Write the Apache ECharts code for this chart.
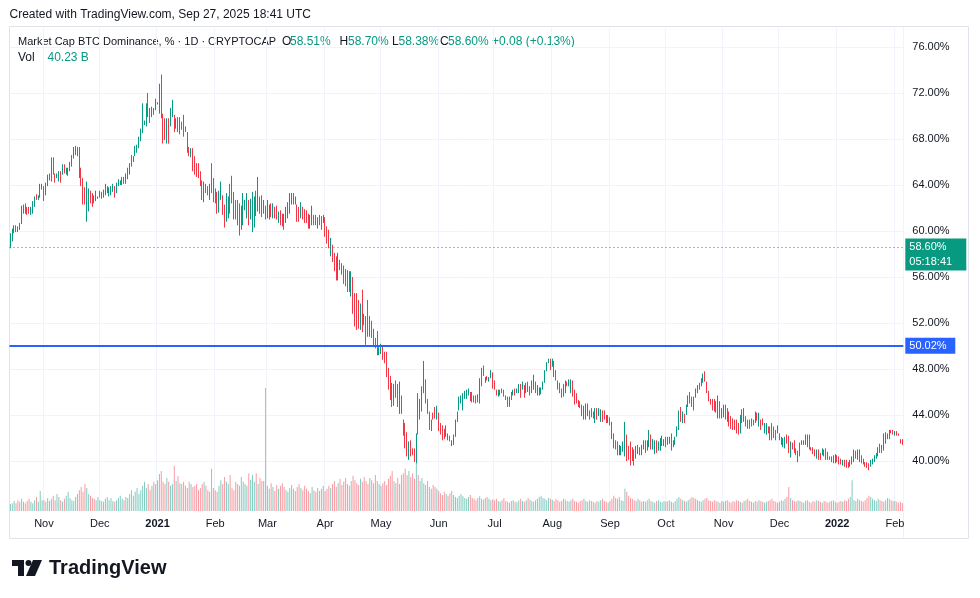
<!DOCTYPE html>
<html>
<head>
<meta charset="utf-8">
<title>Market Cap BTC Dominance, % - 1D - CRYPTOCAP</title>
<script src="https://cdn.jsdelivr.net/npm/echarts@6.0.0/dist/echarts.min.js"></script>
<style>
  html, body { margin: 0; padding: 0; background: #ffffff; }
  #main { width: 980px; height: 598px; }
</style>
</head>
<body>
<div id="main"></div>
<script>
// daily bars, first bar 14 Oct 2020
var startDay = Date.UTC(2020, 9, 14);
var monthNames = ['Jan', 'Feb', 'Mar', 'Apr', 'May', 'Jun', 'Jul', 'Aug', 'Sep', 'Oct', 'Nov', 'Dec'];

var opens = [
  58.5,59.1,59.8,60.5,60.4,60.1,60.6,61.5,62.4,62.1, 62.1,61.4,61.5,62.1,63.2,62.7,62.9,63.6,63.9,63.1,
  63.9,64.4,64.3,66.4,65.0,64.6,64.3,65.2,64.9,65.8, 64.9,64.8,65.2,65.6,66.3,66.6,66.5,67.3,65.5,64.6,
  63.8,60.8,61.7,63.5,63.3,63.1,62.6,62.8,62.9,63.4, 62.9,63.1,63.3,63.0,63.1,63.4,63.9,63.3,63.9,64.0,
  64.0,64.7,64.1,64.5,64.9,66.6,66.0,66.5,66.8,67.2, 67.8,68.5,69.2,69.1,72.0,70.7,69.9,70.7,70.5,71.2,
  70.2,73.6,70.2,69.8,67.6,69.8,69.1,69.9,70.1,68.9, 69.9,68.4,69.5,70.1,69.1,68.6,67.3,66.4,67.2,66.5,
  65.9,65.9,65.2,64.4,62.5,64.1,63.9,62.7,65.9,64.6, 63.7,63.4,61.6,62.7,63.1,62.3,60.8,61.1,64.1,64.8,
  63.4,62.7,62.7,62.4,60.1,60.5,61.8,61.1,62.7,61.0, 59.9,60.3,63.5,61.7,63.0,63.1,61.5,62.2,61.1,61.0,
  62.4,61.1,62.1,62.2,60.7,61.8,61.5,61.5,60.7,61.1, 61.5,62.3,63.3,63.0,62.3,62.1,61.1,62.1,61.9,61.8,
  61.5,60.2,60.5,61.4,61.4,60.2,61.4,61.3,60.7,61.2, 60.4,60.1,57.8,58.8,58.1,57.8,55.7,57.5,57.2,57.0,
  56.7,56.6,56.5,54.3,56.0,54.6,54.6,54.0,51.4,54.9, 52.8,52.6,54.0,50.8,52.2,51.5,50.7,51.3,49.2,49.3,
  50.0,49.5,49.5,48.1,47.4,46.8,44.8,47.0,46.7,44.1, 45.7,43.6,43.3,42.5,40.1,41.8,41.1,41.1,39.8,45.9,
  43.6,44.3,45.9,47.1,45.4,44.3,42.6,44.2,44.7,43.6, 44.2,43.3,43.1,42.8,42.1,42.4,42.2,41.3,41.4,42.1,
  43.4,44.4,45.0,44.4,45.4,45.4,45.7,46.0,46.0,45.7, 45.7,45.1,45.0,48.1,48.3,46.8,47.4,46.9,47.2,47.7,
  47.0,46.2,45.6,45.7,46.3,46.2,45.7,45.6,44.7,45.3, 45.7,46.3,45.9,45.9,46.7,46.2,46.6,45.9,46.9,45.7,
  45.9,46.2,46.9,45.7,45.7,45.8,46.2,46.8,47.8,48.5, 48.9,48.2,48.7,47.9,47.0,46.8,46.3,45.6,45.9,46.9,
  46.5,45.9,47.0,46.2,45.9,45.3,45.2,44.9,43.6,43.6, 43.9,44.4,44.6,44.3,43.3,44.6,43.9,43.4,44.4,44.4,
  44.0,43.3,43.8,43.4,42.4,41.8,41.7,40.5,40.5,40.8, 40.4,42.3,41.3,41.7,41.2,41.0,40.2,40.6,41.2,40.5,
  41.0,41.8,40.9,41.2,42.3,41.0,40.6,41.8,40.9,40.9, 41.3,41.3,42.1,41.4,41.5,42.4,41.8,41.4,42.1,42.7,
  44.7,43.3,44.1,44.0,44.7,46.0,45.6,45.6,45.5,45.9, 46.8,46.5,46.8,47.8,46.9,46.1,45.4,45.4,45.4,45.2,
  43.7,45.2,43.7,43.8,44.9,44.6,44.3,43.9,43.7,43.6, 43.6,43.3,42.4,44.5,43.4,43.9,43.6,43.6,43.7,43.6,
  43.3,44.2,43.0,43.6,43.7,42.4,42.3,43.0,43.0,43.3, 43.0,42.7,42.4,42.4,42.1,41.2,41.1,42.3,42.2,40.3,
  41.6,41.8,41.1,39.9,41.6,41.4,41.4,41.4,41.2,42.3, 41.2,41.2,41.0,40.2,41.0,40.7,40.5,41.0,41.1,40.8,
  40.4,39.9,40.5,39.8,40.5,40.4,40.2,39.6,40.1,40.1, 39.9,39.5,39.7,39.9,40.9,40.1,41.0,40.5,40.2,39.9,
  39.9,39.8,39.5,39.7,39.9,40.2,40.4,41.5,41.4,40.9, 41.5,41.9,41.9,42.7,42.7,42.2,42.6,42.4,41.9,41.9
];

var closes = [
  59.8,60.2,60.5,59.9,59.9,60.7,62.2,62.3,61.5,61.4, 61.5,62.1,62.6,63.0,62.7,63.1,64.1,64.1,62.6,64.2,
  64.9,65.0,66.4,64.9,64.2,65.0,65.2,64.2,65.8,65.0, 65.5,65.5,66.0,66.6,67.3,67.4,67.3,64.6,63.9,62.3,
  62.3,64.3,63.7,62.4,62.1,62.4,63.5,63.0,63.5,62.8, 63.6,64.1,63.9,63.8,63.9,64.1,62.9,64.2,64.5,64.4,
  64.7,64.1,65.0,65.5,65.9,65.6,66.5,67.4,67.5,68.2, 68.9,71.1,69.6,71.1,69.9,69.4,70.8,70.1,71.5,71.0,
  72.8,69.8,67.6,67.9,69.8,67.6,70.7,71.4,68.6,69.8, 68.6,69.9,68.8,68.2,68.6,66.8,66.5,67.2,65.2,64.9,
  64.7,64.6,63.9,62.7,64.3,63.3,63.1,64.1,63.3,62.5, 62.4,61.5,63.5,64.3,61.4,60.3,63.3,63.0,61.5,62.4,
  61.0,61.0,60.5,59.6,62.2,63.3,62.7,63.3,60.5,62.8, 63.4,63.0,61.3,64.7,61.5,61.2,62.7,61.0,62.7,62.3,
  61.2,62.4,61.1,61.0,61.7,60.5,60.4,60.1,62.1,62.5, 63.3,63.3,62.3,62.3,60.8,60.8,62.5,61.0,60.7,60.7,
  60.2,61.4,62.2,60.5,60.5,61.2,60.5,60.1,61.4,59.5, 58.9,58.5,59.4,57.3,56.5,55.7,58.1,56.6,56.2,55.4,
  55.2,54.7,54.7,56.5,52.8,51.7,51.4,51.5,53.7,51.2, 51.8,50.1,50.8,52.6,50.7,49.9,49.8,49.2,49.9,50.2,
  48.8,48.5,47.3,46.2,45.3,44.7,46.7,45.5,44.7,46.9, 44.1,42.2,41.1,40.4,41.7,40.4,40.5,39.9,42.4,42.3,
  45.4,46.5,48.7,45.0,44.1,42.7,43.6,43.6,43.7,44.8, 42.6,42.3,41.8,41.9,43.1,41.8,41.7,41.8,42.3,43.6,
  44.3,45.6,45.7,45.9,46.1,46.2,46.3,45.2,45.1,45.1, 45.0,45.8,47.2,46.5,47.4,47.3,47.0,47.3,47.9,46.3,
  46.2,45.7,46.2,46.2,45.9,45.6,45.3,44.7,45.6,46.0, 46.2,45.7,46.3,46.7,45.5,46.9,45.5,46.8,46.0,46.5,
  47.0,47.5,45.9,46.6,46.4,46.4,46.9,47.9,48.6,48.9, 47.9,48.9,47.3,47.0,46.2,45.9,45.5,46.7,47.0,46.5,
  47.1,47.1,45.6,44.9,45.0,44.7,44.6,43.9,44.8,45.0, 45.0,43.6,43.8,43.7,44.6,43.6,44.6,44.5,43.4,43.6,
  43.3,44.0,43.1,41.9,41.1,41.0,40.5,41.4,41.3,41.7, 43.4,40.0,40.1,39.6,40.0,39.6,41.3,41.4,40.5,41.4,
  41.8,40.7,41.8,42.7,41.0,41.9,41.8,40.7,41.7,42.0, 42.2,41.9,41.2,42.1,42.1,40.9,41.2,42.1,43.0,44.4,
  43.4,44.3,43.3,44.9,45.7,45.0,44.7,44.4,46.3,46.6, 46.2,47.2,47.6,46.9,45.9,45.2,44.9,44.4,44.3,44.2,
  45.7,43.7,44.6,44.9,43.6,43.4,43.0,42.8,42.7,42.7, 42.4,42.3,44.0,43.3,44.6,43.0,42.8,42.8,43.0,43.1,
  44.3,43.5,44.2,42.7,43.1,43.3,43.3,42.4,41.8,41.8, 42.0,41.8,43.1,41.8,41.4,42.0,42.1,41.5,40.7,41.7,
  41.0,40.7,40.5,40.9,40.4,41.8,41.8,42.3,42.3,41.0, 40.9,40.6,40.4,41.0,40.1,40.1,41.1,40.4,40.1,40.1,
  40.1,40.4,39.8,40.6,39.9,39.7,39.7,40.1,39.5,39.4, 39.4,40.1,40.4,41.0,40.2,41.0,39.9,39.8,39.7,39.5,
  39.4,39.2,40.1,40.2,40.5,40.7,41.2,40.7,40.7,42.4, 42.5,42.4,42.7,42.4,42.3,42.6,42.2,42.2,41.5,41.51
];

var highs = [
  59.8,60.2,60.5,60.5,60.4,60.7,62.2,62.3,62.4,62.1, 62.1,62.1,62.6,63.0,63.2,63.1,64.1,64.1,63.9,64.2,
  64.9,65.0,66.4,66.4,65.0,65.0,65.2,65.2,65.8,65.8, 65.5,65.5,66.0,66.6,67.3,67.4,67.3,67.3,65.5,64.6,
  63.8,64.3,63.7,63.5,63.3,63.1,63.5,63.0,63.5,63.4, 63.6,64.1,63.9,63.8,63.9,64.1,63.9,64.2,64.5,64.4,
  64.7,64.7,65.0,65.5,65.9,66.6,66.5,67.4,67.5,68.2, 68.9,71.1,69.6,71.1,72.0,70.7,70.8,70.7,71.5,71.2,
  72.8,73.6,70.2,69.8,69.8,69.8,70.7,71.4,70.1,69.8, 69.9,69.9,69.5,70.1,69.1,68.6,67.3,67.2,67.2,66.5,
  65.9,65.9,65.2,64.4,64.3,64.1,63.9,64.1,65.9,64.6, 63.7,63.4,63.5,64.3,63.1,62.3,63.3,63.0,64.1,64.8,
  63.4,62.7,62.7,62.4,62.2,63.3,62.7,63.3,62.7,62.8, 63.4,63.0,63.5,64.7,63.0,63.1,62.7,62.2,62.7,62.3,
  62.4,62.4,62.1,62.2,61.7,61.8,61.5,61.5,62.1,62.5, 63.3,63.3,63.3,63.0,62.3,62.1,62.5,62.1,61.9,61.8,
  61.5,61.4,62.2,61.4,61.4,61.2,61.4,61.3,61.4,61.2, 60.4,60.1,59.4,58.8,58.1,57.8,58.1,57.5,57.2,57.0,
  56.7,56.6,56.5,56.5,56.0,54.6,54.6,54.0,53.7,54.9, 52.8,52.6,54.0,52.6,52.2,51.5,50.7,51.3,49.9,50.2,
  50.0,49.5,49.5,48.1,47.4,46.8,46.7,47.0,46.7,46.9, 45.7,43.6,43.3,42.5,41.7,41.8,41.1,41.1,42.4,45.9,
  45.4,46.5,48.7,47.1,45.4,44.3,43.6,44.2,44.7,44.8, 44.2,43.3,43.1,42.8,43.1,42.4,42.2,41.8,42.3,43.6,
  44.3,45.6,45.7,45.9,46.1,46.2,46.3,46.0,46.0,45.7, 45.7,45.8,47.2,48.1,48.3,47.3,47.4,47.3,47.9,47.7,
  47.0,46.2,46.2,46.2,46.3,46.2,45.7,45.6,45.6,46.0, 46.2,46.3,46.3,46.7,46.7,46.9,46.6,46.8,46.9,46.5,
  47.0,47.5,46.9,46.6,46.4,46.4,46.9,47.9,48.6,48.9, 48.9,48.9,48.7,47.9,47.0,46.8,46.3,46.7,47.0,46.9,
  47.1,47.1,47.0,46.2,45.9,45.3,45.2,44.9,44.8,45.0, 45.0,44.4,44.6,44.3,44.6,44.6,44.6,44.5,44.4,44.4,
  44.0,44.0,43.8,43.4,42.4,41.8,41.7,41.4,41.3,41.7, 43.4,42.3,41.3,41.7,41.2,41.0,41.3,41.4,41.2,41.4,
  41.8,41.8,41.8,42.7,42.3,41.9,41.8,41.8,41.7,42.0, 42.2,41.9,42.1,42.1,42.1,42.4,41.8,42.1,43.0,44.4,
  44.7,44.3,44.1,44.9,45.7,46.0,45.6,45.6,46.3,46.6, 46.8,47.2,47.6,47.8,46.9,46.1,45.4,45.4,45.4,45.2,
  45.7,45.2,44.6,44.9,44.9,44.6,44.3,43.9,43.7,43.6, 43.6,43.3,44.0,44.5,44.6,43.9,43.6,43.6,43.7,43.6,
  44.3,44.2,44.2,43.6,43.7,43.3,43.3,43.0,43.0,43.3, 43.0,42.7,43.1,42.4,42.1,42.0,42.1,42.3,42.2,41.7,
  41.6,41.8,41.1,40.9,41.6,41.8,41.8,42.3,42.3,42.3, 41.2,41.2,41.0,41.0,41.0,40.7,41.1,41.0,41.1,40.8,
  40.4,40.4,40.5,40.6,40.5,40.4,40.2,40.1,40.1,40.1, 39.9,40.1,40.4,41.0,40.9,41.0,41.0,40.5,40.2,39.9,
  39.9,39.8,40.1,40.2,40.5,40.7,41.2,41.5,41.4,42.4, 42.5,42.4,42.7,42.7,42.7,42.6,42.6,42.4,41.9,41.9
];

var lows = [
  58.5,59.1,59.8,59.9,59.9,60.1,60.6,61.5,61.5,61.4, 61.5,61.4,61.5,62.1,62.7,62.7,62.9,63.6,62.6,63.1,
  63.9,64.4,64.3,64.9,64.2,64.6,64.3,64.2,64.9,65.0, 64.9,64.8,65.2,65.6,66.3,66.6,66.5,64.6,63.9,62.3,
  62.3,60.8,61.7,62.4,62.1,62.4,62.6,62.8,62.9,62.8, 62.9,63.1,63.3,63.0,63.1,63.4,62.9,63.3,63.9,64.0,
  64.0,64.1,64.1,64.5,64.9,65.6,66.0,66.5,66.8,67.2, 67.8,68.5,69.2,69.1,69.9,69.4,69.9,70.1,70.5,71.0,
  70.2,69.8,67.6,67.9,67.6,67.6,69.1,69.9,68.6,68.9, 68.6,68.4,68.8,68.2,68.6,66.8,66.5,66.4,65.2,64.9,
  64.7,64.6,63.9,62.7,62.5,63.3,63.1,62.7,63.3,62.5, 62.4,61.5,61.6,62.7,61.4,60.3,60.8,61.1,61.5,62.4,
  61.0,61.0,60.5,59.6,60.1,60.5,61.8,61.1,60.5,61.0, 59.9,60.3,61.3,61.7,61.5,61.2,61.5,61.0,61.1,61.0,
  61.2,61.1,61.1,61.0,60.7,60.5,60.4,60.1,60.7,61.1, 61.5,62.3,62.3,62.3,60.8,60.8,61.1,61.0,60.7,60.7,
  60.2,60.2,60.5,60.5,60.5,60.2,60.5,60.1,60.7,59.5, 58.9,58.5,57.8,57.3,56.5,55.7,55.7,56.6,56.2,55.4,
  55.2,54.7,54.7,54.3,52.8,51.7,51.4,51.5,51.4,51.2, 51.8,50.1,50.8,50.8,50.7,49.9,49.8,49.2,49.2,49.3,
  48.8,48.5,47.3,46.2,45.3,44.7,44.8,45.5,44.7,44.1, 44.1,42.2,41.1,40.4,40.1,40.4,40.5,39.9,39.8,42.3,
  43.6,44.3,45.9,45.0,44.1,42.7,42.6,43.6,43.7,43.6, 42.6,42.3,41.8,41.9,42.1,41.8,41.7,41.3,41.4,42.1,
  43.4,44.4,45.0,44.4,45.4,45.4,45.7,45.2,45.1,45.1, 45.0,45.1,45.0,46.5,47.4,46.8,47.0,46.9,47.2,46.3,
  46.2,45.7,45.6,45.7,45.9,45.6,45.3,44.7,44.7,45.3, 45.7,45.7,45.9,45.9,45.5,46.2,45.5,45.9,46.0,45.7,
  45.9,46.2,45.9,45.7,45.7,45.8,46.2,46.8,47.8,48.5, 47.9,48.2,47.3,47.0,46.2,45.9,45.5,45.6,45.9,46.5,
  46.5,45.9,45.6,44.9,45.0,44.7,44.6,43.9,43.6,43.6, 43.9,43.6,43.8,43.7,43.3,43.6,43.9,43.4,43.4,43.6,
  43.3,43.3,43.1,41.9,41.1,41.0,40.5,40.5,40.5,40.8, 40.4,40.0,40.1,39.6,40.0,39.6,40.2,40.6,40.5,40.5,
  41.0,40.7,40.9,41.2,41.0,41.0,40.6,40.7,40.9,40.9, 41.3,41.3,41.2,41.4,41.5,40.9,41.2,41.4,42.1,42.7,
  43.4,43.3,43.3,44.0,44.7,45.0,44.7,44.4,45.5,45.9, 46.2,46.5,46.8,46.9,45.9,45.2,44.9,44.4,44.3,44.2,
  43.7,43.7,43.7,43.8,43.6,43.4,43.0,42.8,42.7,42.7, 42.4,42.3,42.4,43.3,43.4,43.0,42.8,42.8,43.0,43.1,
  43.3,43.5,43.0,42.7,43.1,42.4,42.3,42.4,41.8,41.8, 42.0,41.8,42.4,41.8,41.4,41.2,41.1,41.5,40.7,40.3,
  41.0,40.7,40.5,39.9,40.4,41.4,41.4,41.4,41.2,41.0, 40.9,40.6,40.4,40.2,40.1,40.1,40.5,40.4,40.1,40.1,
  40.1,39.9,39.8,39.8,39.9,39.7,39.7,39.6,39.5,39.4, 39.4,39.5,39.7,39.9,40.2,40.1,39.9,39.8,39.7,39.5,
  39.4,39.2,39.5,39.7,39.9,40.2,40.4,40.7,40.7,40.9, 41.5,41.9,41.9,42.4,42.3,42.2,42.2,42.2,41.5,41.4
];

// volume, billions
var volumes = [
  16,18,23,18,25,21,28,21,18,23,28,21,18,25,32,21,46,25,
  25,21,30,23,28,35,25,39,32,25,21,28,35,44,30,25,23,32,39,48,55,44,62,53,39,35,30,28,25,32,
  25,23,21,28,32,25,30,23,21,25,30,35,28,25,32,30,39,48,35,44,53,39,48,58,67,53,62,48,58,67,62,
  71,85,92,67,62,76,67,58,62,104,69,80,64,62,67,58,53,67,62,55,58,62,48,53,62,67,58,48,44,97,53,
  48,44,58,71,62,78,67,62,83,53,48,67,62,58,78,67,62,58,87,72,83,67,87,62,76,69,69,283,
  58,51,64,55,46,60,51,58,64,55,48,44,53,60,51,46,55,62,53,48,58,51,46,41,55,48,44,53,46,51,58,
  46,51,58,53,62,69,55,64,74,60,67,76,62,58,69,81,71,64,60,74,67,78,69,62,76,71,64,83,69,62,
  58,64,69,60,74,81,92,69,64,76,62,83,87,97,83,92,78,87,74,110,83,69,76,64,60,69,55,51,60,55,51,
  46,41,37,44,39,35,41,46,37,32,30,35,39,34,30,28,32,37,30,28,25,30,34,28,26,30,32,28,25,27,
  25,28,23,21,25,30,23,21,19,23,25,21,20,24,28,23,21,25,30,26,23,21,25,28,32,35,30,28,25,30,28,
  26,23,28,25,21,23,28,26,23,21,25,28,23,21,19,23,25,28,23,21,25,23,21,19,23,21,25,28,23,21,19,
  23,28,35,30,28,32,25,23,51,44,35,30,28,25,23,28,25,21,23,21,25,28,23,21,19,23,25,21,20,23,
  21,23,25,21,19,23,28,32,28,25,23,21,25,28,32,30,28,25,23,21,25,28,30,25,23,21,25,23,21,19,23,
  21,23,25,21,19,23,21,25,23,21,19,23,25,28,23,21,19,23,21,25,23,21,19,21,23,25,28,23,21,19,
  21,25,23,28,32,55,30,25,23,21,25,23,21,19,23,25,21,19,23,21,25,23,21,19,23,21,19,21,23,25,21,
  19,21,23,21,25,23,28,32,71,25,23,28,25,23,21,25,30,35,32,28,25,23,28,25,23,21,25,30,28,25,23,
  23,21,19,21,18.56
];

var livePrice = 58.60;       // dotted last-price line
var liveCountdown = '05:18:41';
var drawnLevel = 50.02;      // blue horizontal line
var legendValues = ['58.51%', '58.70%', '58.38%', '58.60%', '+0.08 (+0.13%)'];
var volLegend = '40.23 B';

var UP = '#089981', DOWN = '#f23645';
var UP_VOL = 'rgba(8,153,129,0.5)', DOWN_VOL = 'rgba(242,54,69,0.5)';
var FONT = '"Liberation Sans", Arial, sans-serif';
var INK = '#131722';

var dates = [];
for (var i = 0; i < closes.length; i++) {
  dates.push(new Date(startDay + i * 86400000).toISOString().slice(0, 10));
}
var candles = opens.map(function (o, i) { return [o, closes[i], lows[i], highs[i]]; });
var volBars = volumes.map(function (v, i) {
  return { value: v, itemStyle: { color: closes[i] >= opens[i] ? UP_VOL : DOWN_VOL } };
});
var lastClose = closes[closes.length - 1];
var lastVol = volumes[volumes.length - 1];

function monthStart(index, value) { return value.slice(8) === '01'; }

function txt(x, y, s, color, size, weight) {
  return {
    type: 'text', x: x, y: y, silent: true,
    style: { text: s, fill: color || INK, font: (weight || 'normal') + ' ' + (size || 11) + 'px ' + FONT, verticalAlign: 'middle' }
  };
}

var chart = echarts.init(document.getElementById('main'));

var option = {
  animation: false,
  backgroundColor: '#ffffff',
  textStyle: { fontFamily: FONT },
  grid: [
    { left: 9.5, right: 76.7, top: 28, bottom: 91 },   // price pane
    { left: 9.5, right: 76.7, top: 28, bottom: 87 }    // volume overlay
  ],
  xAxis: [
    {
      type: 'category', gridIndex: 0, data: dates,
      axisLine: { show: false }, axisTick: { show: false },
      axisLabel: { show: false }, splitLine: { show: false }
    },
    {
      type: 'category', gridIndex: 1, data: dates,
      axisLine: { show: false }, axisTick: { show: false },
      axisLabel: {
        interval: monthStart, color: INK, fontSize: 11, margin: 7,
        formatter: function (value) {
          var m = +value.slice(5, 7);
          return m === 1 ? '{y|' + value.slice(0, 4) + '}' : monthNames[m - 1];
        },
        rich: { y: { fontWeight: 'bold', fontSize: 11, color: INK } }
      },
      splitLine: { show: true, interval: monthStart, lineStyle: { color: '#f0f3fa' } }
    }
  ],
  yAxis: [
    {
      type: 'value', gridIndex: 0, position: 'right',
      min: 36, max: 77.65, interval: 4,
      axisLine: { show: false }, axisTick: { show: false },
      splitLine: { lineStyle: { color: '#f0f3fa' }, showMinLine: false, showMaxLine: false },
      axisLabel: {
        color: INK, fontSize: 11, margin: 9, showMaxLabel: false, showMinLabel: false,
        formatter: function (v) { return (v < 40 || v > 76) ? '' : v.toFixed(2) + '%'; }
      }
    },
    { type: 'value', gridIndex: 1, min: 0, max: 1111, show: false }
  ],
  series: [
    {
      type: 'bar', xAxisIndex: 1, yAxisIndex: 1, data: volBars,
      barWidth: 1, silent: true,
      markLine: {
        symbol: 'none', silent: true,
        data: [{
          yAxis: lastVol,
          lineStyle: { opacity: 0 },
          label: {
            show: true, position: 'end', distance: 2,
            formatter: lastVol.toFixed(2) + ' B',
            color: DOWN, backgroundColor: '#ffffff', borderColor: DOWN, borderWidth: 1,
            fontSize: 11, lineHeight: 14, padding: [1, 5, 1, 5], width: 42
          }
        }]
      }
    },
    {
      type: 'candlestick', xAxisIndex: 0, yAxisIndex: 0, data: candles,
      barWidth: 1, silent: true,
      itemStyle: { color: UP, color0: DOWN, borderColor: UP, borderColor0: DOWN, borderWidth: 1 },
      markLine: {
        symbol: 'none', silent: true,
        data: [
          {
            yAxis: livePrice,
            lineStyle: { color: UP, width: 1, type: [1, 3] },
            label: {
              show: true, position: 'end', distance: 2,
              formatter: livePrice.toFixed(2) + '%\n' + liveCountdown,
              color: '#ffffff', backgroundColor: UP, fontSize: 11, lineHeight: 15,
              padding: [1, 4, 1, 4], width: 53, offset: [0, 7.5]
            }
          },
          {
            yAxis: drawnLevel,
            lineStyle: { color: '#2962ff', width: 2, type: 'solid' },
            label: {
              show: true, position: 'end', distance: 2,
              formatter: drawnLevel.toFixed(2) + '%',
              color: '#ffffff', backgroundColor: '#2962ff', fontSize: 11, lineHeight: 14,
              padding: [1, 4, 1, 4], width: 42
            }
          },
          {
            yAxis: lastClose,
            lineStyle: { opacity: 0 },
            label: {
              show: true, position: 'end', distance: 2,
              formatter: lastClose.toFixed(2) + '%',
              color: DOWN, backgroundColor: '#ffffff', borderColor: DOWN, borderWidth: 1,
              fontSize: 11, lineHeight: 14, padding: [1, 4, 1, 4], width: 42
            }
          }
        ]
      }
    }
  ],
  graphic: [
    // pane frame
    { type: 'rect', silent: true, shape: { x: 9.5, y: 26.5, width: 959, height: 512 },
      style: { fill: 'none', stroke: '#e0e3eb', lineWidth: 1 } },
    { type: 'line', silent: true, shape: { x1: 903.5, y1: 27, x2: 903.5, y2: 538 },
      style: { stroke: '#eef0f4', lineWidth: 1 } },
    txt(9.5, 15, 'Created with TradingView.com, Sep 27, 2025 18:41 UTC', INK, 12),
    txt(18, 42, 'Market Cap BTC Dominance, % \u00b7 1D \u00b7 CRYPTOCAP', INK, 11),
    txt(282, 42, 'O', INK, 12), txt(290, 42, legendValues[0], UP, 12),
    txt(339.5, 42, 'H', INK, 12), txt(348, 42, legendValues[1], UP, 12),
    txt(392, 42, 'L', INK, 12), txt(398.5, 42, legendValues[2], UP, 12),
    txt(440, 42, 'C', INK, 12), txt(448, 42, legendValues[3], UP, 12),
    txt(492, 42, legendValues[4], UP, 12),
    txt(18, 58, 'Vol', INK, 12), txt(47.5, 58, volLegend, UP, 12),
    // TradingView mark
    { type: 'rect', silent: true, shape: { x: 12, y: 560, width: 12, height: 6 }, style: { fill: INK } },
    { type: 'rect', silent: true, shape: { x: 18, y: 560, width: 6, height: 16 }, style: { fill: INK } },
    { type: 'circle', silent: true, shape: { cx: 28.5, cy: 563, r: 3 }, style: { fill: INK } },
    { type: 'polygon', silent: true, shape: { points: [[33, 560], [42, 560], [35, 576], [26, 576]] }, style: { fill: INK } },
    txt(49, 568, 'TradingView', INK, 20, 'bold')
  ]
};

chart.setOption(option);
</script>
</body>
</html>
